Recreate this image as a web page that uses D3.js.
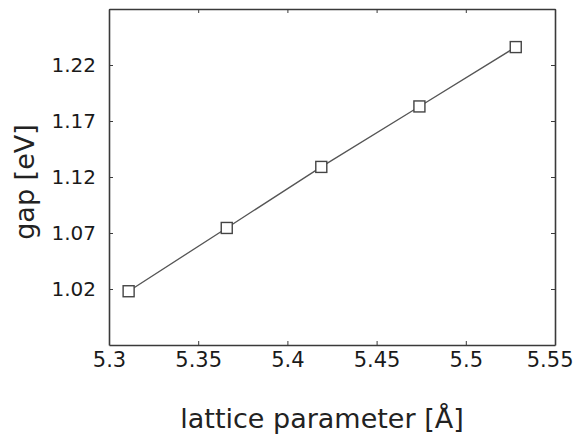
<!DOCTYPE html>
<html>
<head>
<meta charset="utf-8">
<script src="https://cdn.jsdelivr.net/npm/d3@7"></script>
<style>
  body { margin: 0; background: #fff; }
  svg { display: block; font-family: "DejaVu Sans", sans-serif; }
  .tick text { font-family: "DejaVu Sans", sans-serif; fill: #1a1a1a; }
  .x-axis .tick text { font-size: 21px; }
  .y-axis .tick text { font-size: 20px; }
</style>
</head>
<body>
<svg id="chart" width="576" height="441"></svg>
<script>
"use strict"

// lattice parameter [Å] vs band gap [eV]
const lattice = [5.311, 5.366, 5.419, 5.474, 5.528]
const gap = [1.018, 1.0745, 1.129, 1.183, 1.236]

const xTicks = [5.3, 5.35, 5.4, 5.45, 5.5, 5.55]
const yTicks = [1.02, 1.07, 1.12, 1.17, 1.22]

const margins = { top: 9, right: 21, bottom: 96, left: 109 }
const fullwidth = 576
const fullheight = 441
const width = fullwidth - margins.left - margins.right
const height = fullheight - margins.top - margins.bottom

const svg = d3.select("#chart")
const g = svg.append("g").attr("transform", `translate(${margins.left},${margins.top})`)

const xScale = d3.scaleLinear().domain([5.3, 5.55]).range([0, width])
const yScale = d3.scaleLinear().domain([0.97, 1.27]).range([height, 0])

const fmt = d3.format("~g")
const frameColor = "#3a3a3a"

// bottom + left axes with labels, ticks pointing inward
const xAxis = d3.axisBottom(xScale).tickValues(xTicks).tickFormat(fmt).tickSizeInner(-4).tickSizeOuter(0).tickPadding(7)
const yAxis = d3.axisLeft(yScale).tickValues(yTicks).tickFormat(fmt).tickSizeInner(-4).tickSizeOuter(0).tickPadding(13)
// mirrored ticks on top + right, no labels
const xAxisTop = d3.axisTop(xScale).tickValues(xTicks).tickFormat("").tickSizeInner(-4).tickSizeOuter(0)
const yAxisRight = d3.axisRight(yScale).tickValues(yTicks).tickFormat("").tickSizeInner(-4).tickSizeOuter(0)

const xAxisG = g.append("g").attr("class", "x-axis").attr("transform", `translate(0,${height})`).call(xAxis)
g.append("g").attr("class", "y-axis").call(yAxis)
g.append("g").call(xAxisTop)
g.append("g").attr("transform", `translate(${width},0)`).call(yAxisRight)

g.selectAll(".domain").attr("stroke", frameColor).attr("stroke-width", 1.6)
g.selectAll(".tick line").attr("stroke", frameColor).attr("stroke-width", 1)

// last x label sits a bit left of its tick so it stays inside the picture
xAxisG.selectAll(".tick text")
  .filter(d => d === xTicks[xTicks.length - 1])
  .attr("text-anchor", "end")
  .attr("x", 18)

// data line
const line = d3.line()
  .x((d, i) => xScale(lattice[i]))
  .y(d => yScale(d))

g.append("path")
  .datum(gap)
  .attr("fill", "none")
  .attr("stroke", "#555")
  .attr("stroke-width", 1.3)
  .attr("d", line)

// square markers
const size = 11
g.selectAll("rect.marker")
  .data(gap)
  .join("rect")
  .attr("class", "marker")
  .attr("x", (d, i) => xScale(lattice[i]) - size / 2)
  .attr("y", d => yScale(d) - size / 2)
  .attr("width", size)
  .attr("height", size)
  .attr("fill", "#fff")
  .attr("stroke", "#444")
  .attr("stroke-width", 1.4)

// axis titles
svg.append("text")
  .attr("x", 322)
  .attr("y", 428)
  .attr("text-anchor", "middle")
  .attr("fill", "#222")
  .style("font-size", "27px")
  .text("lattice parameter [Å]")

svg.append("text")
  .attr("transform", "translate(34,182) rotate(-90)")
  .attr("text-anchor", "middle")
  .attr("fill", "#222")
  .style("font-size", "27px")
  .text("gap [eV]")
</script>
</body>
</html>
